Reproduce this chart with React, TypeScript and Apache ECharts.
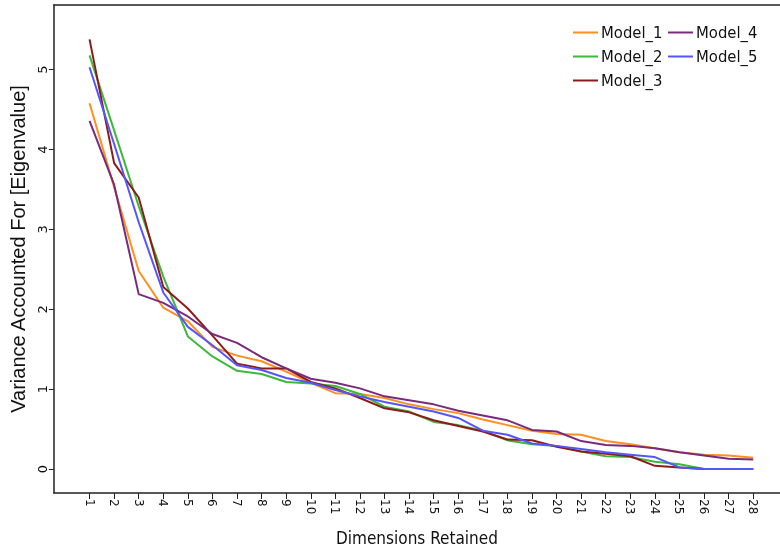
import React, { useEffect, useRef } from "react";
import * as echarts from "echarts";

const dimensions = [1, 2, 3, 4, 5, 6, 7, 8, 9, 10, 11, 12, 13, 14, 15, 16, 17, 18, 19, 20, 21, 22, 23, 24, 25, 26, 27, 28];
const yTicks = [0, 1, 2, 3, 4, 5];
const seriesNames = ["Model_1", "Model_2", "Model_3", "Model_4", "Model_5"];
const model1 = [4.58, 3.53, 2.48, 2.02, 1.85, 1.53, 1.42, 1.35, 1.22, 1.08, 0.95, 0.94, 0.89, 0.81, 0.75, 0.70, 0.62, 0.55, 0.48, 0.44, 0.43, 0.35, 0.31, 0.26, 0.21, 0.18, 0.17, 0.14];
const model2 = [5.18, 4.24, 3.29, 2.41, 1.66, 1.41, 1.23, 1.19, 1.09, 1.07, 1.04, 0.94, 0.78, 0.72, 0.59, 0.55, 0.48, 0.36, 0.31, 0.29, 0.22, 0.16, 0.15, 0.09, 0.06, 0, 0, 0];
const model3 = [5.38, 3.83, 3.40, 2.28, 2.01, 1.67, 1.32, 1.26, 1.26, 1.09, 1.01, 0.89, 0.76, 0.71, 0.61, 0.54, 0.47, 0.37, 0.36, 0.28, 0.22, 0.19, 0.16, 0.04, 0.02, 0, 0, 0];
const model4 = [4.36, 3.56, 2.19, 2.08, 1.91, 1.69, 1.58, 1.40, 1.26, 1.13, 1.08, 1.01, 0.91, 0.86, 0.81, 0.73, 0.67, 0.61, 0.49, 0.47, 0.35, 0.30, 0.29, 0.26, 0.21, 0.17, 0.13, 0.12];
const model5 = [5.03, 4.07, 3.09, 2.21, 1.78, 1.55, 1.30, 1.24, 1.14, 1.08, 0.99, 0.91, 0.84, 0.78, 0.72, 0.64, 0.48, 0.43, 0.32, 0.29, 0.25, 0.21, 0.18, 0.15, 0.02, 0, 0, 0];
const colors = ["#ff8f1f", "#3cb83c", "#8e1b1b", "#7a2a7d", "#5555ff"];

const allValues = [model1, model2, model3, model4, model5];

export default function App() {
  const ref = useRef<HTMLDivElement>(null);
  useEffect(() => {
    if (!ref.current) return;
    const chart = echarts.init(ref.current, null, { renderer: "svg" });
    const legendBase = {
      orient: "vertical" as const,
      top: 19,
      itemWidth: 25,
      itemHeight: 2,
      itemGap: 7,
      icon: "rect",
      textStyle: { fontFamily: "DejaVu Sans Condensed", fontSize: 16.5, color: "#111", padding: [0, 0, 0, -2] },
    };
    const axisLineStyle = { color: "#222", width: 1.5 };
    chart.setOption({
      animation: false,
      color: colors,
      legend: [
        { ...legendBase, left: 568, data: seriesNames.slice(0, 3) },
        { ...legendBase, left: 663, data: seriesNames.slice(3) },
      ],
      grid: {
        left: 49,
        top: 5,
        right: 0,
        bottom: 58,
        show: false,
      },
      xAxis: [
        {
          type: "value",
          min: -0.45,
          max: 29.09,
          name: "Dimensions Retained",
          nameLocation: "middle",
          nameGap: 36,
          nameTextStyle: { fontFamily: "DejaVu Sans Condensed", fontSize: 17, color: "#111" },
          axisLine: { show: true, onZero: false, lineStyle: axisLineStyle },
          axisTick: { show: true, length: 6, customValues: dimensions, lineStyle: { color: "#222" } },
          axisLabel: {
            customValues: dimensions,
            rotate: -90,
            margin: 6,
            fontFamily: "DejaVu Sans",
            fontSize: 12,
            color: "#111",
          },
          splitLine: { show: false },
        },
        {
          type: "value",
          position: "top",
          min: -0.45,
          max: 29.09,
          axisLine: { show: true, onZero: false, lineStyle: axisLineStyle },
          axisTick: { show: false },
          axisLabel: { show: false },
          splitLine: { show: false },
        },
      ],
      yAxis: {
        type: "value",
        min: -0.3,
        max: 5.81,
        name: "Variance Accounted For [Eigenvalue]",
        nameLocation: "middle",
        nameGap: 21,
        nameTextStyle: { fontFamily: "Liberation Sans", fontSize: 20, color: "#111" },
        axisLine: { show: true, onZero: false, lineStyle: axisLineStyle },
        axisTick: { show: true, length: 5, customValues: yTicks, lineStyle: { color: "#222" } },
        axisLabel: {
          customValues: yTicks,
          rotate: 90,
          margin: 5,
          fontFamily: "DejaVu Sans",
          fontSize: 13,
          color: "#111",
        },
        splitLine: { show: false },
      },
      series: seriesNames.map((name, i) => ({
        name,
        type: "line",
        symbol: "none",
        xAxisIndex: 0,
        lineStyle: { width: 2, color: colors[i] },
        data: allValues[i].map((v, k) => [dimensions[k], v]),
      })),
    });
    return () => chart.dispose();
  }, []);
  return <div ref={ref} style={{ position: "fixed", left: 0, top: 0, width: 780, height: 551 }} />;
}
